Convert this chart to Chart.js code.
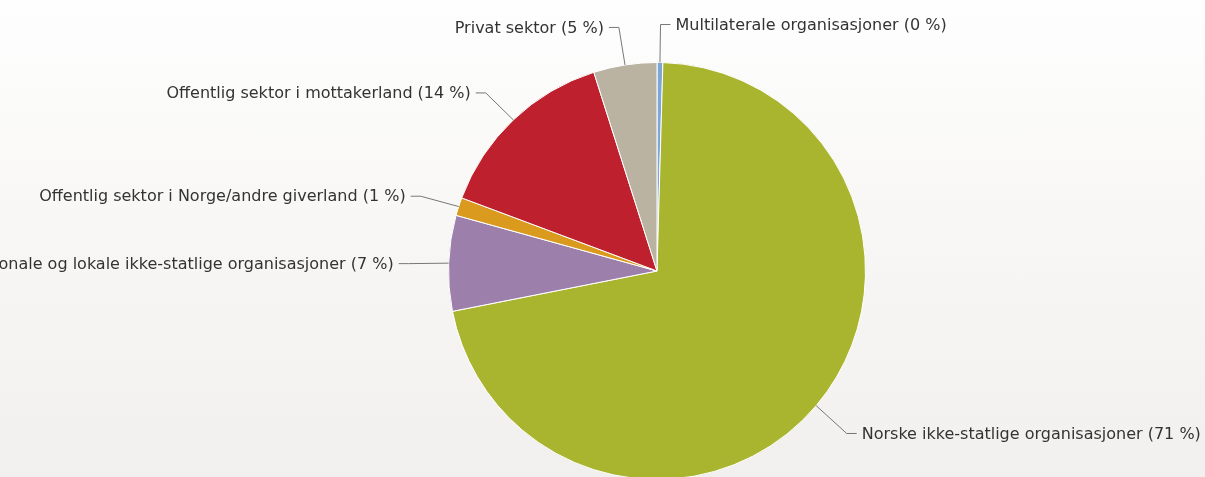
<!DOCTYPE html>
<html>
<head>
<meta charset="utf-8">
<script src="https://cdn.jsdelivr.net/npm/chart.js@4/dist/chart.umd.min.js"></script>
<style>
  html, body { margin: 0; padding: 0; overflow: hidden; }
  body { width: 1205px; height: 477px; background: linear-gradient(#fefefe, #f6f5f3 60%, #f1f0ee); }
  canvas { display: block; }
</style>
</head>
<body>
<canvas id="pie-canvas" width="1205" height="500"></canvas>
<script>
const categories = [
    'Multilaterale organisasjoner',
    'Norske ikke-statlige organisasjoner',
    'Internasjonale og lokale ikke-statlige organisasjoner',
    'Offentlig sektor i Norge/andre giverland',
    'Offentlig sektor i mottakerland',
    'Privat sektor'
];
const shares = [0.45, 71.45, 7.4, 1.4, 14.4, 4.9];
const colors = ['#7ea6d8', '#a9b52f', '#9d7fab', '#d99a1d', '#bf202d', '#bbb3a2'];

// highcharts-like labels with connectors
const pieLabels = {
    id: 'pieLabels',
    afterDraw(chart) {
        const ctx = chart.ctx;
        const meta = chart.getDatasetMeta(0);
        const total = shares.reduce((a, b) => a + b, 0);
        ctx.save();
        ctx.font = '16px "DejaVu Sans"';
        ctx.textBaseline = 'middle';
        meta.data.forEach((arc, i) => {
            const p = arc.getProps(['x', 'y', 'startAngle', 'endAngle', 'outerRadius'], true);
            const mid = (p.startAngle + p.endAngle) / 2;
            const right = Math.cos(mid) >= 0;
            const ex = p.x + p.outerRadius * Math.cos(mid);
            const ey = p.y + p.outerRadius * Math.sin(mid);
            const bx = p.x + (p.outerRadius + 40) * Math.cos(mid);
            const by = p.y + (p.outerRadius + 40) * Math.sin(mid) + 2;
            const hx = bx + (right ? 10 : -10);

            ctx.strokeStyle = '#777';
            ctx.lineWidth = 1;
            ctx.beginPath();
            ctx.moveTo(ex, ey);
            ctx.lineTo(bx, by);
            ctx.lineTo(hx, by);
            ctx.stroke();

            const pct = Math.round(shares[i] / total * 100);
            ctx.fillStyle = '#333';
            ctx.textAlign = right ? 'left' : 'right';
            ctx.fillText(`${categories[i]} (${pct} %)`, hx + (right ? 5 : -5), by + 1);
        });
        ctx.restore();
    }
};

new Chart(document.getElementById('pie-canvas'), {
    type: 'pie',
    data: {
        labels: categories,
        datasets: [{
            data: shares,
            backgroundColor: colors,
            borderColor: '#ffffff',
            borderWidth: 1
        }]
    },
    options: {
        responsive: false,
        animation: false,
        layout: {
            padding: { top: 62, bottom: 20, left: 448, right: 339 }
        },
        plugins: {
            legend: { display: false },
            tooltip: { enabled: false }
        }
    },
    plugins: [pieLabels]
});
</script>
</body>
</html>
